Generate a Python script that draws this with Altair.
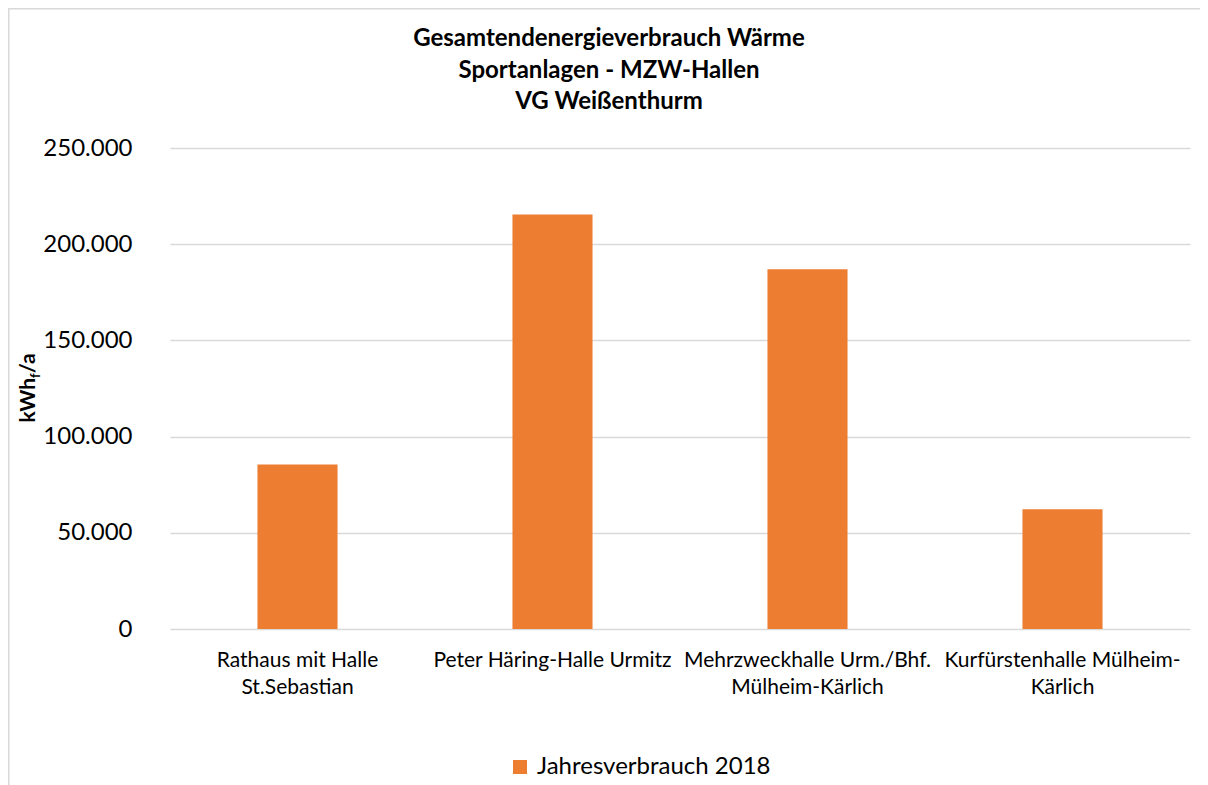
import altair as alt
import pandas as pd

categories = [
    "Rathaus mit Halle\nSt.Sebastian",
    "Peter Häring-Halle Urmitz",
    "Mehrzweckhalle Urm./Bhf.\nMülheim-Kärlich",
    "Kurfürstenhalle Mülheim-\nKärlich",
]
values = [85500, 215500, 187000, 62300]
series_name = "Jahresverbrauch 2018"
title_lines = ["Gesamtendenergieverbrauch Wärme", "Sportanlagen - MZW-Hallen", "VG Weißenthurm"]
y_ticks = [0, 50000, 100000, 150000, 200000, 250000]

FONT = "Lato"
ORANGE = "#ED7D31"

df = pd.DataFrame({"Gebäude": categories, "Wert": values, "Serie": [series_name] * len(categories)})

W, H = 1020, 481

bars = alt.Chart(df).mark_bar(color=ORANGE).encode(
    x=alt.X(
        "Gebäude:N",
        sort=None,
        scale=alt.Scale(paddingInner=0.686, paddingOuter=0.343),
        axis=alt.Axis(
            title=None,
            labelAngle=0,
            labelFont=FONT,
            labelFontSize=21,
            labelColor="#000000",
            labelExpr="split(datum.value, '\\n')",
            labelLineHeight=27,
            labelPadding=20,
            labelLimit=400,
            ticks=False,
            domain=False,
            labelBaseline="top",
        ),
    ),
    y=alt.Y(
        "Wert:Q",
        scale=alt.Scale(domain=[0, 250000], nice=False),
        axis=alt.Axis(
            title=None,
            values=y_ticks,
            labelExpr="replace(format(datum.value, ','), ',', '.')",
            labelFont=FONT,
            labelFontSize=24,
            labelColor="#000000",
            labelPadding=38,
            ticks=False,
            domain=False,
            grid=True,
            gridColor="#d9d9d9",
            gridWidth=1.3,
        ),
    ),
    color=alt.Color(
        "Serie:N",
        scale=alt.Scale(range=[ORANGE]),
        legend=alt.Legend(
            title=None,
            orient="none",
            legendX=338,
            legendY=607,
            symbolType="square",
            symbolSize=196,
            symbolStrokeWidth=0,
            labelFont=FONT,
            labelFontSize=24,
            labelColor="#000000",
            labelOffset=5,
            labelLimit=400,
        ),
    ),
)

# y-axis title with subscript f: kWh_f/a
ytitle_kwh = alt.Chart(pd.DataFrame({"t": ["kWh"]})).mark_text(
    font=FONT, fontSize=21, fontWeight="bold", angle=270, align="right", baseline="alphabetic", color="#000000"
).encode(text="t:N", x=alt.value(-135), y=alt.value(230))
ytitle_f = alt.Chart(pd.DataFrame({"t": ["f"]})).mark_text(
    font=FONT, fontSize=13, fontWeight="bold", angle=270, align="left", baseline="alphabetic", color="#000000"
).encode(text="t:N", x=alt.value(-130), y=alt.value(230))
ytitle_a = alt.Chart(pd.DataFrame({"t": ["/a"]})).mark_text(
    font=FONT, fontSize=21, fontWeight="bold", angle=270, align="left", baseline="alphabetic", color="#000000"
).encode(text="t:N", x=alt.value(-135), y=alt.value(225))

# chart-area border (top and left edges, as in the reference)
border_top = alt.Chart(pd.DataFrame({"k": [0]})).mark_rule(color="#d9d9d9", strokeWidth=1.5).encode(
    x=alt.value(-162), x2=alt.value(1030), y=alt.value(-139.2), y2=alt.value(-139.2)
)
border_left = alt.Chart(pd.DataFrame({"k": [0]})).mark_rule(color="#d9d9d9", strokeWidth=1.5).encode(
    x=alt.value(-161.2), x2=alt.value(-161.2), y=alt.value(-140), y2=alt.value(640)
)

chart = alt.layer(border_top, border_left, bars, ytitle_kwh, ytitle_f, ytitle_a).properties(
    width=W,
    height=H,
    title=alt.TitleParams(
        text=title_lines,
        font=FONT,
        fontSize=24,
        fontWeight="bold",
        color="#000000",
        lineHeight=31.5,
        anchor="middle",
        dx=-71,
        dy=128,
        offset=21,
    ),
    autosize=alt.AutoSizeParams(type="none"),
    padding={"left": 162, "top": 140, "right": 10, "bottom": 156},
).configure_view(strokeWidth=0, stroke="transparent")

chart.save("out.html", embed_options={"renderer": "svg", "actions": False})
